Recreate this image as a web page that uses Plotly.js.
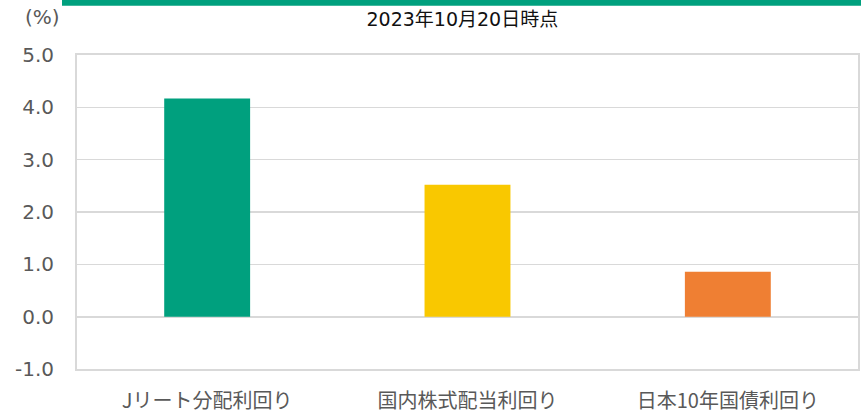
<!DOCTYPE html>
<html><head><meta charset="utf-8">
<script src="https://cdn.plot.ly/plotly-3.0.1.min.js"></script>
<style>html,body{margin:0;padding:0;background:#fff}#chart{width:861px;height:413px}</style>
</head><body><div id="chart"></div>
<script>
const categories = ['Jリート分配利回り', '国内株式配当利回り', '日本10年国債利回り'];
const values = [4.17, 2.52, 0.86];
const barColors = ['#00a07e', '#f9c800', '#ef7f33'];
const yTickVals = [-1, 0, 1, 2, 3, 4, 5];
const yTickText = ['-1.0', '0.0', '1.0', '2.0', '3.0', '4.0', '5.0'];
const titleText = '2023年10月20日時点';
const unitText = '(%)';

const FONT = '"DejaVu Sans", "Noto Sans CJK JP", sans-serif';
const CJK = '"Noto Sans CJK JP", "DejaVu Sans", sans-serif';

Plotly.newPlot('chart', [{
  type: 'bar',
  x: categories,
  y: values,
  marker: {color: barColors, line: {width: 0}},
  width: 0.33,
  hoverinfo: 'none'
}], {
  width: 861, height: 413,
  margin: {l: 77, r: 3, t: 55, b: 44},
  paper_bgcolor: '#fff', plot_bgcolor: '#fff',
  font: {family: FONT, color: '#595959', size: 19},
  title: {text: titleText, font: {family: FONT, size: 19, color: '#111'},
          x: 0.537, xanchor: 'center', y: 0.953, yanchor: 'middle'},
  showlegend: false,
  xaxis: {
    type: 'category',
    showgrid: false, zeroline: false,
    showline: true, linecolor: '#d9d9d9', linewidth: 2, mirror: true,
    ticks: '', ticklabelstandoff: 13,
    tickfont: {family: CJK, size: 20, color: '#595959'}
  },
  yaxis: {
    range: [-1, 5], tickvals: yTickVals, ticktext: yTickText,
    showgrid: true, gridcolor: '#d9d9d9', gridwidth: 1.5,
    zeroline: true, zerolinecolor: '#d9d9d9', zerolinewidth: 2,
    showline: true, linecolor: '#d9d9d9', linewidth: 2, mirror: true,
    ticks: '', ticklabelstandoff: 17,
    tickfont: {family: FONT, size: 20, color: '#595959'}
  },
  shapes: [{
    type: 'rect', xref: 'paper', yref: 'paper',
    x0: -0.0192, x1: 1.01, y0: 1.157, y1: 1.2,
    fillcolor: '#00a07e', line: {width: 0}, layer: 'above'
  }],
  annotations: [{
    text: unitText, xref: 'paper', yref: 'paper',
    x: -0.0448, y: 1.1226, xanchor: 'center', yanchor: 'middle',
    showarrow: false, font: {family: FONT, size: 20, color: '#595959'}
  }]
}, {staticPlot: true});
</script></body></html>
